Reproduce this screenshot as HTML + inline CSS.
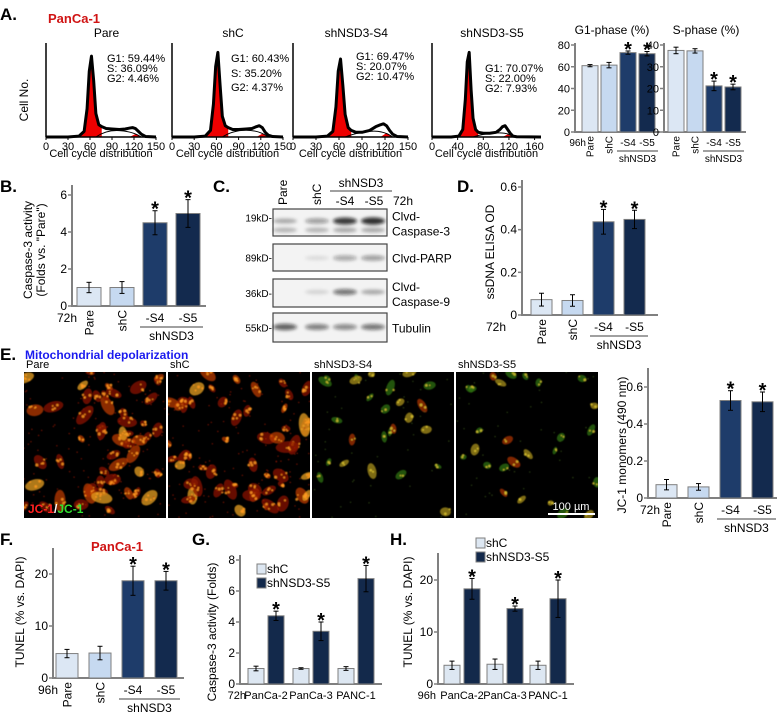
<!DOCTYPE html>
<html><head><meta charset="utf-8">
<style>
html,body{margin:0;padding:0;background:#fff;}
svg{display:block;font-family:"Liberation Sans",Arial,sans-serif;}
</style></head>
<body>
<svg id="fig" xmlns="http://www.w3.org/2000/svg" width="778" height="712" viewBox="0 0 778 712">
<defs>
<filter id="blur1" x="-50%" y="-100%" width="200%" height="300%"><feGaussianBlur stdDeviation="1.6"/></filter>
<filter id="blur2"><feGaussianBlur stdDeviation="0.6"/></filter>
</defs>
</svg>
<script>
// ---------- DATA ----------
const cats4 = ['Pare','shC','-S4','-S5'];
const star4 = [0,0,1,1];
const g1Vals = [61,61.5,73,72];
const g1Errs = [1,2.5,1.5,2];
const g1Ticks = [0,20,40,60,80];
const sVals = [37.5,37.3,21.2,20.7];
const sErrs = [1.5,1,2.2,1.3];
const sTicks = [0,10,20,30,40];
const casp3Vals = [1,1,4.5,5.0];
const casp3Errs = [0.28,0.32,0.65,0.75];
const casp3Ticks = [0,2,4,6];
const ssdnaVals = [0.072,0.068,0.437,0.448];
const ssdnaErrs = [0.03,0.027,0.058,0.043];
const ssdnaTicks = [0,0.2,0.4,0.6];
const jc1Vals = [0.072,0.06,0.527,0.52];
const jc1Errs = [0.028,0.018,0.053,0.053];
const jc1Ticks = [0,0.2,0.4,0.6];
const tunelVals = [4.7,4.8,18.7,18.7];
const tunelErrs = [0.8,1.3,2.8,1.8];
const tunelTicks = [0,10,20];
const lineCats = ['PanCa-2','PanCa-3','PANC-1'];
const gShC = [1,1,1];
const gShCErr = [0.15,0.05,0.12];
const gS5 = [4.4,3.4,6.8];
const gS5Err = [0.3,0.6,0.85];
const gTicks = [0,2,4,6,8];
const hShC = [3.6,3.8,3.6];
const hShCErr = [0.8,1.0,0.8];
const hS5 = [18.3,14.5,16.4];
const hS5Err = [2.0,0.5,3.6];
const hTicks = [0,10,20];
const histNames = ['Pare','shC','shNSD3-S4','shNSD3-S5'];
const histStats = [['G1: 59.44%','S: 36.09%','G2: 4.46%'],['G1: 60.43%','S: 35.20%','G2: 4.37%'],['G1: 69.47%','S: 20.07%','G2: 10.47%'],['G1: 70.07%','S: 22.00%','G2: 7.93%']];
const histCh = [0,30,45,52,56,59,62,65,68,72,76,82,90,100,108,114,118,122,126,130,136,150];
const histCh4 = [0,30,42,48,52,55,58,61,64,68,72,80,90,100,106,110,114,118,122,126,132,170];
const histPare = [0,0,0.01,0.06,0.3,0.7,0.86,0.6,0.25,0.13,0.11,0.09,0.085,0.08,0.085,0.095,0.1,0.09,0.06,0.03,0.005,0];
const histShC = [0,0,0.01,0.07,0.35,0.75,0.9,0.55,0.22,0.12,0.1,0.08,0.08,0.085,0.09,0.11,0.12,0.1,0.05,0.02,0.005,0];
const histS4 = [0,0,0.01,0.06,0.32,0.7,0.83,0.55,0.24,0.1,0.07,0.05,0.05,0.07,0.11,0.13,0.14,0.12,0.07,0.03,0.005,0];
const histS5 = [0,0,0.01,0.08,0.4,0.8,0.9,0.5,0.2,0.08,0.05,0.04,0.04,0.05,0.08,0.11,0.12,0.08,0.04,0.01,0.003,0];
const blotLanes = ['Pare','shC','-S4','-S5'];
const blotC3a = [0.35,0.45,0.95,1.0];
const blotC3b = [0.3,0.3,0.35,0.35];
const blotPARP = [0.0,0.12,0.4,0.45];
const blotC9 = [0.0,0.15,0.65,0.35];
const blotTub = [0.75,0.6,0.55,0.65];

// ---------- helpers ----------
const NS='http://www.w3.org/2000/svg';
const svg=document.getElementById('fig');
function mk(tag, attrs, name, parent){
  const e=document.createElementNS(NS,tag);
  for(const k in attrs) e.setAttribute(k,attrs[k]);
  
  
  (parent||svg).appendChild(e);
  return e;
}
function txt(x,y,s,name,opt){
  opt=opt||{};
  const a={x:x,y:y,'font-size':opt.fs||11,fill:opt.fill||'#000'};
  if(opt.anchor) a['text-anchor']=opt.anchor;
  if(opt.bold) a['font-weight']='bold';
  if(opt.rot!==undefined) a.transform='rotate('+opt.rot+' '+x+' '+y+')';
  const t=mk('text',a,name,opt.parent);
  t.textContent=s;
  return t;
}
function lin(v, y0, vTop, yTop){ return y0 - (v/vTop)*(y0-yTop); }
function fmt(v){ return (Math.abs(v-Math.round(v))<1e-9)?String(Math.round(v)):String(v); }

function axes(cfg){
  const g=mk('g',{},cfg.name+'-axes');
  const ys=v=>lin(v,cfg.y0,cfg.ticks[cfg.ticks.length-1],cfg.yTop);
  mk('line',{x1:cfg.ax,y1:cfg.axisTop,x2:cfg.ax,y2:cfg.y0,stroke:'#808080','stroke-width':2},'y-axis-line',g);
  mk('line',{x1:cfg.ax-1,y1:cfg.y0,x2:cfg.xEnd,y2:cfg.y0,stroke:'#808080','stroke-width':2},'x-axis-line',g);
  cfg.ticks.forEach(t=>{
    const y=ys(t);
    mk('line',{x1:cfg.ax-4,y1:y,x2:cfg.ax,y2:y,stroke:'#808080','stroke-width':1.5},'y-tick',g);
    txt(cfg.ax-5,y+4,fmt(t),'y-tick-label',{anchor:'end',fs:cfg.fs||12,parent:g});
  });
  return ys;
}
function bar(x,w,v,e,ys,y0,color,name,starOn){
  mk('rect',{x:x,y:ys(v),width:w,height:y0-ys(v),fill:color,stroke:'#7f7f7f','stroke-width':1},name);
  const cx=x+w/2, t=ys(v+e), b=ys(v-e);
  mk('line',{x1:cx,y1:t,x2:cx,y2:b,stroke:'#000','stroke-width':1},name+'-error');
  mk('line',{x1:cx-2.5,y1:t,x2:cx+2.5,y2:t,stroke:'#000','stroke-width':1},name+'-error-cap');
  mk('line',{x1:cx-2.5,y1:b,x2:cx+2.5,y2:b,stroke:'#000','stroke-width':1},name+'-error-cap');
  if(starOn) txt(cx,t+5,'*',name+'-star',{anchor:'middle',fs:20,bold:true});
}
const cols4=['#dce7f4','#c6d9f0','#1e3c6a','#132a4e'];

function fourBarChart(cfg,vals,errs,ticks){
  cfg.ticks=ticks;
  const ys=axes(cfg);
  vals.forEach((v,i)=>{
    const x=cfg.start+i*cfg.step;
    bar(x,cfg.w,v,errs[i],ys,cfg.y0,cols4[i],cfg.name+'-bar-'+cats4[i].replace('-','').toLowerCase(),star4[i]);
  });
  const lf=cfg.lf||12;
  const ly=cfg.y0+4;
  [0,1].forEach(i=>{
    const cx=cfg.start+i*cfg.step+cfg.w/2+lf/2.8;
    txt(cx,ly,cats4[i],cfg.name+'-category-label',{anchor:'end',fs:lf,rot:-90});
  });
  [2,3].forEach(i=>{
    const cx=cfg.start+i*cfg.step+cfg.w/2;
    txt(cx,ly+lf,cats4[i],cfg.name+'-category-label',{anchor:'middle',fs:lf});
  });
  const x1=cfg.start+2*cfg.step-3, x2=cfg.start+3*cfg.step+cfg.w+3;
  mk('line',{x1:x1,y1:ly+lf+5,x2:x2,y2:ly+lf+5,stroke:'#808080','stroke-width':1.5},cfg.name+'-group-line');
  txt((x1+x2)/2,ly+2*lf+6,'shNSD3',cfg.name+'-group-label',{anchor:'middle',fs:lf});
  txt(cfg.timeX,ly+lf,cfg.time,cfg.name+'-time-label',{anchor:'end',fs:lf});
}

// ---------- Panel A ----------
txt(0,20,'A.','panel-label-a',{fs:17,bold:true});
txt(48,23,'PanCa-1','cell-line-title-a',{fs:13,bold:true,fill:'#d01414'});
txt(28,100,'Cell No.','histogram-y-title',{anchor:'middle',fs:12,rot:-90});
const histAx=[46,172,293,432];
const histW=[110,111,115,109];
const histMax=[150,150,150,170];
const histTickSets=[[0,30,60,90,120,150],[0,30,60,90,120,150],[0,30,60,90,120,150],[0,40,80,120,160]];
const histData=[histPare,histShC,histS4,histS5];
const statX=[107,231,356,485];
const statY=[[62,72,82],[62,77,91],[60,70,80],[72,82,92]];
histData.forEach((d,k)=>{
  const g=mk('g',{},'histogram-'+histNames[k].toLowerCase());
  const ax=histAx[k], W=histW[k], top=43, y0=137, H=y0-top;
  const ch=(k===3)?histCh4:histCh;
  const xs=c=>ax+c/histMax[k]*W;
  const ysH=v=>y0-v*H;
  let p='M'+xs(ch[2])+','+y0;
  for(let i=2;i<=10;i++) p+=' L'+xs(ch[i])+','+ysH(d[i]);
  p+=' L'+xs(ch[10])+','+y0+' Z';
  mk('path',{d:p,fill:'#ee0000',stroke:'none'},'g1-peak-fill',g);
  let p2='M'+xs(ch[15])+','+y0+' L'+xs(ch[17])+','+ysH(d[17]*0.35)+' L'+xs(ch[19])+','+y0+' Z';
  mk('path',{d:p2,fill:'#ee0000'},'g2-peak-fill',g);
  let p3='M'+xs(ch[8])+','+y0+' Q'+xs(ch[11])+','+ysH(d[12]*0.9)+' '+xs(ch[13])+','+ysH(d[13]*0.85)+' T'+xs(ch[19])+','+y0;
  mk('path',{d:p3,fill:'none',stroke:'#000','stroke-width':1},'s-phase-fit',g);
  let p4='';
  d.forEach((v,i)=>{p4+=(i?' L':'M')+xs(ch[i])+','+ysH(v);});
  mk('path',{d:p4,fill:'none',stroke:'#000','stroke-width':3,'stroke-linejoin':'round'},'histogram-outline',g);
  mk('line',{x1:ax,y1:top,x2:ax,y2:y0,stroke:'#000','stroke-width':1.5},'histogram-y-axis',g);
  mk('line',{x1:ax,y1:y0,x2:ax+W,y2:y0,stroke:'#000','stroke-width':1.5},'histogram-x-axis',g);
  histTickSets[k].forEach(t=>{
    mk('line',{x1:xs(t),y1:y0,x2:xs(t),y2:y0+3,stroke:'#000','stroke-width':1},'histogram-x-tick',g);
    txt(xs(t),y0+13,String(t),'histogram-x-tick-label',{anchor:'middle',fs:11,parent:g});
  });
  txt(ax+W/2,157,'Cell cycle distribution','histogram-x-title',{anchor:'middle',fs:11,parent:g});
  txt(ax+W*0.55,37,histNames[k],'histogram-title',{anchor:'middle',fs:12,parent:g});
  histStats[k].forEach((s,j)=>txt(statX[k],statY[k][j],s,'histogram-stat',{fs:11,parent:g}));
});
txt(612,34,'G1-phase (%)','g1-chart-title',{anchor:'middle',fs:12});
txt(706,34,'S-phase (%)','s-chart-title',{anchor:'middle',fs:12});
fourBarChart({name:'g1-chart',ax:575,y0:132,yTop:45,axisTop:43,xEnd:660,start:582,step:19,w:16,fs:11,lf:10,time:'96h',timeX:586},g1Vals,g1Errs,g1Ticks);
fourBarChart({name:'s-chart',ax:664,y0:132,yTop:45,axisTop:43,xEnd:746,start:668,step:19,w:16,fs:11,lf:10,time:'',timeX:660},sVals,sErrs,sTicks);

// ---------- Panel B ----------
txt(0,192,'B.','panel-label-b',{fs:17,bold:true});
txt(32,250,'Caspase-3 activity','b-y-title',{anchor:'middle',fs:12,rot:-90});
txt(45,250,'(Folds vs. "Pare")','b-y-title-2',{anchor:'middle',fs:12,rot:-90});
fourBarChart({name:'b-chart',ax:72,y0:306,yTop:195,axisTop:185,xEnd:206,start:77,step:33,w:24,time:'72h',timeX:77},casp3Vals,casp3Errs,casp3Ticks);

// ---------- Panel C ----------
txt(213,192,'C.','panel-label-c',{fs:17,bold:true});
const laneX=[285,317,345,373];
txt(287,205,'Pare','blot-lane-label',{fs:12,rot:-90});
txt(321,205,'shC','blot-lane-label',{fs:12,rot:-90});
txt(361,187,'shNSD3','blot-group-label',{anchor:'middle',fs:12});
mk('line',{x1:330,y1:191,x2:392,y2:191,stroke:'#808080','stroke-width':1.5},'blot-group-line');
txt(345,205,'-S4','blot-lane-label',{anchor:'middle',fs:12});
txt(374,205,'-S5','blot-lane-label',{anchor:'middle',fs:12});
txt(393,205,'72h','blot-time-label',{fs:12});
const boxes=[[209,236,'19kD-',['Clvd-','Caspase-3']],[244,271,'89kD-',['Clvd-PARP']],[279,307,'36kD-',['Clvd-','Caspase-9']],[313,342,'55kD-',['Tubulin']]];
const bandSets=[[[blotC3a,221],[blotC3b,230]],[[blotPARP,258]],[[blotC9,292]],[[blotTub,327]]];
boxes.forEach((b,k)=>{
  const g=mk('g',{},'blot-'+b[3].join('').toLowerCase());
  mk('rect',{x:273,y:b[0],width:114,height:b[1]-b[0],fill:'#f3f3f3',stroke:'#444','stroke-width':1.2},'blot-box',g);
  bandSets[k].forEach(bs=>{
    bs[0].forEach((v,i)=>{
      if(v<=0) return;
      mk('ellipse',{cx:laneX[i],cy:bs[1],rx:12,ry:2+v*1.6,fill:'#111','fill-opacity':v*0.85,filter:'url(#blur1)'},'blot-band-'+blotLanes[i],g);
    });
  });
  const mid=(b[0]+b[1])/2;
  txt(272,mid+4-(k===0?5:0),b[2],'blot-marker-label',{anchor:'end',fs:10,parent:g});
  if(b[3].length===2){
    txt(392,mid-2,b[3][0],'blot-protein-label',{fs:12,parent:g});
    txt(392,mid+13,b[3][1],'blot-protein-label',{fs:12,parent:g});
  } else txt(392,mid+5,b[3][0],'blot-protein-label',{fs:12,parent:g});
});

// ---------- Panel D ----------
txt(457,192,'D.','panel-label-d',{fs:17,bold:true});
txt(494,252,'ssDNA ELISA OD','d-y-title',{anchor:'middle',fs:12,rot:-90});
fourBarChart({name:'d-chart',ax:522,y0:315,yTop:187,axisTop:180,xEnd:658,start:531,step:31,w:21,time:'72h',timeX:506},ssdnaVals,ssdnaErrs,ssdnaTicks);

// ---------- Panel E ----------
txt(0,360,'E.','panel-label-e',{fs:17,bold:true});
txt(25,359,'Mitochondrial depolarization','e-title',{fs:12,bold:true,fill:'#1a1aee'});
const imgX=[24,168,312,456], imgW=142, imgY=372, imgH=146;
const imgNames=['Pare','shC','shNSD3-S4','shNSD3-S5'];
let seed=7;
function rnd(){seed=(seed*16807)%2147483647;return seed/2147483647;}
imgX.forEach((x,k)=>{
  txt(x+2,368,imgNames[k],'micrograph-label',{fs:11});
  const g=mk('g',{},'micrograph-'+imgNames[k].toLowerCase());
  const cp=mk('clipPath',{id:'cp'+k},'clip',g);
  mk('rect',{x:x,y:imgY,width:imgW,height:imgH},'clip-rect',cp);
  mk('rect',{x:x,y:imgY,width:imgW,height:imgH,fill:'#000'},'micrograph-bg',g);
  const cg=mk('g',{'clip-path':'url(#cp'+k+')',filter:'url(#blur2)'},'cells',g);
  const n=(k<2)?55:26;
  for(let i=0;i<n;i++){
    const cx=x+rnd()*imgW, cy=imgY+rnd()*imgH;
    const r=(k<2)?2.5+rnd()*3.5:2+rnd()*2.5;
    const q=rnd();
    let c;
    if(k<2) c=q<0.6?'#8a1400':(q<0.9?'#b83a00':'#e8a020');
    else c=q<0.45?'#2f7010':(q<0.8?'#a89018':'#a83200');
    const rot=rnd()*180;
    mk('ellipse',{cx:cx,cy:cy,rx:r*(1.2+rnd()*0.9),ry:r,fill:c,'fill-opacity':0.75,transform:'rotate('+rot+' '+cx+' '+cy+')'},'cell',cg);
    const ns=(k<2)?4:2;
    for(let j=0;j<ns;j++){
      mk('circle',{cx:cx+(rnd()-0.5)*r*2,cy:cy+(rnd()-0.5)*r*1.4,r:0.8+rnd()*0.8,fill:(k<2)?'#ff9a20':'#d8c030','fill-opacity':0.8},'cell-speckle',cg);
    }
  }
  for(let i=0;i<(k<2?120:40);i++){
    mk('circle',{cx:x+rnd()*imgW,cy:imgY+rnd()*imgH,r:0.7,fill:(k<2)?'#b02000':'#406020','fill-opacity':0.7},'background-speckle',cg);
  }
});
const jl=mk('text',{x:28,y:513,'font-size':12,'font-weight':'bold'},'jc1-label');
jl.innerHTML='<tspan fill="#ff2020">JC-1</tspan><tspan fill="#ffffff">/</tspan><tspan fill="#30e030">JC-1</tspan>';
mk('line',{x1:548,y1:514,x2:595,y2:514,stroke:'#fff','stroke-width':2},'scale-bar');
txt(571,510,'100 µm','scale-bar-label',{anchor:'middle',fs:11,fill:'#fff'});
txt(626,445,'JC-1 monomers (490 nm)','jc1-y-title',{anchor:'middle',fs:12,rot:-90});
fourBarChart({name:'jc1-chart',ax:648,y0:498,yTop:387,axisTop:368,xEnd:777,start:656,step:32,w:21,time:'72h',timeX:660},jc1Vals,jc1Errs,jc1Ticks);

// ---------- Panel F ----------
txt(0,545,'F.','panel-label-f',{fs:17,bold:true});
txt(117,551,'PanCa-1','cell-line-title-f',{anchor:'middle',fs:13,bold:true,fill:'#d01414'});
txt(24,612,'TUNEL (% vs. DAPI)','f-y-title',{anchor:'middle',fs:12,rot:-90});
fourBarChart({name:'f-chart',ax:53,y0:678,yTop:574,axisTop:548,xEnd:184,start:56,step:33,w:22,time:'96h',timeX:58},tunelVals,tunelErrs,tunelTicks);

// ---------- Panel G & H ----------
function pairChart(cfg,a,ae,b,be,ticks){
  cfg.ticks=ticks;
  const ys=axes(cfg);
  lineCats.forEach((c,i)=>{
    const x=cfg.start+i*cfg.step;
    bar(x,cfg.w,a[i],ae[i],ys,cfg.y0,'#dde7f2',cfg.name+'-bar-shc-'+c.toLowerCase(),0);
    bar(x+cfg.w+4,cfg.w,b[i],be[i],ys,cfg.y0,'#13294b',cfg.name+'-bar-shnsd3s5-'+c.toLowerCase(),1);
    txt(x+cfg.w+2,cfg.y0+15,c,cfg.name+'-category-label',{anchor:'middle',fs:11});
  });
  txt(cfg.timeX,cfg.y0+15,cfg.time,cfg.name+'-time-label',{anchor:'end',fs:11});
  const lg=mk('g',{},cfg.name+'-legend');
  mk('rect',{x:cfg.lx,y:cfg.ly-9,width:9,height:10,fill:'#dde7f2',stroke:'#7f7f7f'},'legend-swatch-shc',lg);
  txt(cfg.lx+10,cfg.ly,'shC','legend-label-shc',{fs:12,parent:lg});
  mk('rect',{x:cfg.lx,y:cfg.ly+5,width:9,height:10,fill:'#13294b',stroke:'#7f7f7f'},'legend-swatch-shnsd3s5',lg);
  txt(cfg.lx+10,cfg.ly+14,'shNSD3-S5','legend-label-shnsd3s5',{fs:12,parent:lg});
}
txt(192,545,'G.','panel-label-g',{fs:17,bold:true});
txt(216,632,'Caspase-3 activity (Folds)','g-y-title',{anchor:'middle',fs:12,rot:-90});
pairChart({name:'g-chart',ax:240,y0:684,yTop:560,axisTop:555,xEnd:382,start:248,step:45,w:16,time:'72h',timeX:246,lx:257,ly:573},gShC,gShCErr,gS5,gS5Err,gTicks);
txt(390,545,'H.','panel-label-h',{fs:17,bold:true});
txt(412,612,'TUNEL (% vs. DAPI)','h-y-title',{anchor:'middle',fs:12,rot:-90});
pairChart({name:'h-chart',ax:438,y0:684,yTop:580,axisTop:553,xEnd:574,start:444,step:43,w:16,time:'96h',timeX:436,lx:476,ly:547},hShC,hShCErr,hS5,hS5Err,hTicks);
</script>
</body></html>
